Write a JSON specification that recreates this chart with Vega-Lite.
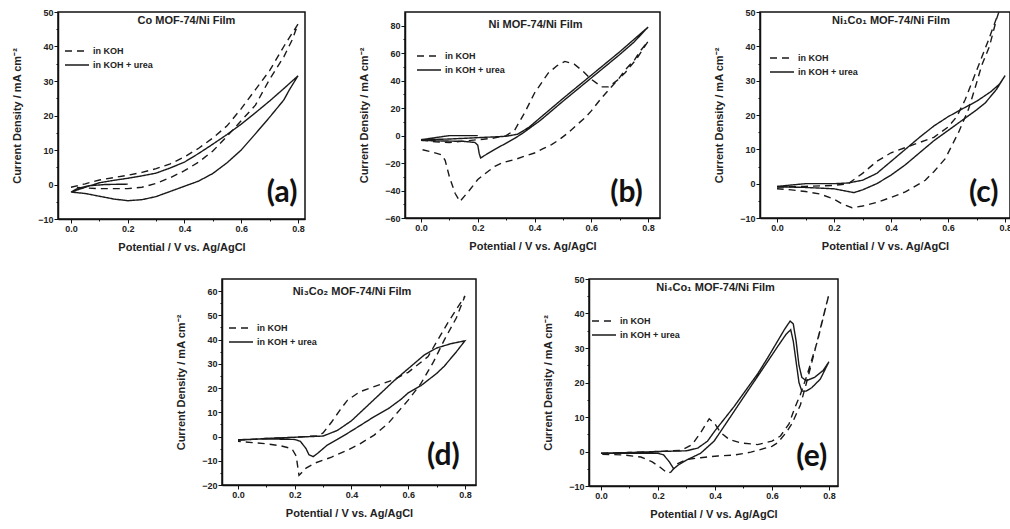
{
  "$schema": "https://vega.github.io/schema/vega-lite/v6.json",
  "background": "white",
  "padding": {"left": 10, "top": 7, "right": 0, "bottom": 0},
  "spacing": 21,
  "resolve": {"scale": {"strokeDash": "independent"}, "legend": {"strokeDash": "independent"}},
  "datasets": {
    "cv": [
      {"p":"a","s":"in KOH","i":0,"x":0.0,"y":-0.8},{"p":"a","s":"in KOH","i":1,"x":0.05,"y":0.2},{"p":"a","s":"in KOH","i":2,"x":0.1,"y":1.3},{"p":"a","s":"in KOH","i":3,"x":0.15,"y":2.0},{"p":"a","s":"in KOH","i":4,"x":0.2,"y":2.7},{"p":"a","s":"in KOH","i":5,"x":0.25,"y":3.5},{"p":"a","s":"in KOH","i":6,"x":0.3,"y":4.6},{"p":"a","s":"in KOH","i":7,"x":0.35,"y":6.0},{"p":"a","s":"in KOH","i":8,"x":0.4,"y":8.0},{"p":"a","s":"in KOH","i":9,"x":0.45,"y":10.5},{"p":"a","s":"in KOH","i":10,"x":0.5,"y":13.5},{"p":"a","s":"in KOH","i":11,"x":0.55,"y":17},{"p":"a","s":"in KOH","i":12,"x":0.6,"y":22},{"p":"a","s":"in KOH","i":13,"x":0.65,"y":27.5},{"p":"a","s":"in KOH","i":14,"x":0.7,"y":33},{"p":"a","s":"in KOH","i":15,"x":0.75,"y":40},{"p":"a","s":"in KOH","i":16,"x":0.8,"y":46.5},{"p":"a","s":"in KOH","i":17,"x":0.78,"y":42},{"p":"a","s":"in KOH","i":18,"x":0.75,"y":37},{"p":"a","s":"in KOH","i":19,"x":0.7,"y":30.5},{"p":"a","s":"in KOH","i":20,"x":0.65,"y":23},{"p":"a","s":"in KOH","i":21,"x":0.6,"y":18.5},{"p":"a","s":"in KOH","i":22,"x":0.55,"y":14},{"p":"a","s":"in KOH","i":23,"x":0.5,"y":9.7},{"p":"a","s":"in KOH","i":24,"x":0.45,"y":6.5},{"p":"a","s":"in KOH","i":25,"x":0.4,"y":4},{"p":"a","s":"in KOH","i":26,"x":0.35,"y":2},{"p":"a","s":"in KOH","i":27,"x":0.3,"y":0.3},{"p":"a","s":"in KOH","i":28,"x":0.25,"y":-0.8},{"p":"a","s":"in KOH","i":29,"x":0.2,"y":-1.2},{"p":"a","s":"in KOH","i":30,"x":0.1,"y":-1.2},{"p":"a","s":"in KOH","i":31,"x":0.05,"y":-1},{"p":"a","s":"in KOH","i":32,"x":0.0,"y":-0.8},
      {"p":"a","s":"in KOH + urea","i":0,"x":0.2,"y":0.1},{"p":"a","s":"in KOH + urea","i":1,"x":0.12,"y":0},{"p":"a","s":"in KOH + urea","i":2,"x":0.06,"y":-0.4},{"p":"a","s":"in KOH + urea","i":3,"x":0.02,"y":-1.3},{"p":"a","s":"in KOH + urea","i":4,"x":0.0,"y":-2.2},{"p":"a","s":"in KOH + urea","i":5,"x":0.05,"y":-0.8},{"p":"a","s":"in KOH + urea","i":6,"x":0.1,"y":0.5},{"p":"a","s":"in KOH + urea","i":7,"x":0.15,"y":1.2},{"p":"a","s":"in KOH + urea","i":8,"x":0.2,"y":1.8},{"p":"a","s":"in KOH + urea","i":9,"x":0.25,"y":2.5},{"p":"a","s":"in KOH + urea","i":10,"x":0.3,"y":3.3},{"p":"a","s":"in KOH + urea","i":11,"x":0.35,"y":4.8},{"p":"a","s":"in KOH + urea","i":12,"x":0.4,"y":6.5},{"p":"a","s":"in KOH + urea","i":13,"x":0.45,"y":9},{"p":"a","s":"in KOH + urea","i":14,"x":0.5,"y":11.7},{"p":"a","s":"in KOH + urea","i":15,"x":0.55,"y":14.5},{"p":"a","s":"in KOH + urea","i":16,"x":0.6,"y":17.5},{"p":"a","s":"in KOH + urea","i":17,"x":0.65,"y":20.8},{"p":"a","s":"in KOH + urea","i":18,"x":0.7,"y":24.2},{"p":"a","s":"in KOH + urea","i":19,"x":0.75,"y":27.8},{"p":"a","s":"in KOH + urea","i":20,"x":0.8,"y":31.5},{"p":"a","s":"in KOH + urea","i":21,"x":0.77,"y":27.5},{"p":"a","s":"in KOH + urea","i":22,"x":0.75,"y":24.5},{"p":"a","s":"in KOH + urea","i":23,"x":0.7,"y":19.5},{"p":"a","s":"in KOH + urea","i":24,"x":0.65,"y":14.7},{"p":"a","s":"in KOH + urea","i":25,"x":0.6,"y":10},{"p":"a","s":"in KOH + urea","i":26,"x":0.55,"y":6.3},{"p":"a","s":"in KOH + urea","i":27,"x":0.5,"y":3.2},{"p":"a","s":"in KOH + urea","i":28,"x":0.45,"y":1},{"p":"a","s":"in KOH + urea","i":29,"x":0.4,"y":-0.5},{"p":"a","s":"in KOH + urea","i":30,"x":0.35,"y":-2},{"p":"a","s":"in KOH + urea","i":31,"x":0.3,"y":-3.5},{"p":"a","s":"in KOH + urea","i":32,"x":0.25,"y":-4.4},{"p":"a","s":"in KOH + urea","i":33,"x":0.2,"y":-4.7},{"p":"a","s":"in KOH + urea","i":34,"x":0.15,"y":-4.2},{"p":"a","s":"in KOH + urea","i":35,"x":0.1,"y":-3.4},{"p":"a","s":"in KOH + urea","i":36,"x":0.05,"y":-2.6},{"p":"a","s":"in KOH + urea","i":37,"x":0.0,"y":-2.2},

      {"p":"b","s":"in KOH","i":0,"x":0.0,"y":-3},{"p":"b","s":"in KOH","i":1,"x":0.05,"y":-4.5},{"p":"b","s":"in KOH","i":2,"x":0.1,"y":-5},{"p":"b","s":"in KOH","i":3,"x":0.15,"y":-4},{"p":"b","s":"in KOH","i":4,"x":0.2,"y":-3},{"p":"b","s":"in KOH","i":5,"x":0.25,"y":-2},{"p":"b","s":"in KOH","i":6,"x":0.3,"y":0},{"p":"b","s":"in KOH","i":7,"x":0.33,"y":4},{"p":"b","s":"in KOH","i":8,"x":0.366,"y":17},{"p":"b","s":"in KOH","i":9,"x":0.4,"y":31},{"p":"b","s":"in KOH","i":10,"x":0.448,"y":45.5},{"p":"b","s":"in KOH","i":11,"x":0.48,"y":51},{"p":"b","s":"in KOH","i":12,"x":0.507,"y":54},{"p":"b","s":"in KOH","i":13,"x":0.54,"y":52},{"p":"b","s":"in KOH","i":14,"x":0.57,"y":47},{"p":"b","s":"in KOH","i":15,"x":0.6,"y":41},{"p":"b","s":"in KOH","i":16,"x":0.636,"y":35.5},{"p":"b","s":"in KOH","i":17,"x":0.66,"y":35.5},{"p":"b","s":"in KOH","i":18,"x":0.69,"y":40},{"p":"b","s":"in KOH","i":19,"x":0.72,"y":46},{"p":"b","s":"in KOH","i":20,"x":0.76,"y":56},{"p":"b","s":"in KOH","i":21,"x":0.8,"y":68.6},{"p":"b","s":"in KOH","i":22,"x":0.77,"y":61},{"p":"b","s":"in KOH","i":23,"x":0.753,"y":55.3},{"p":"b","s":"in KOH","i":24,"x":0.72,"y":48},{"p":"b","s":"in KOH","i":25,"x":0.694,"y":40.7},{"p":"b","s":"in KOH","i":26,"x":0.66,"y":33},{"p":"b","s":"in KOH","i":27,"x":0.636,"y":27.4},{"p":"b","s":"in KOH","i":28,"x":0.6,"y":18},{"p":"b","s":"in KOH","i":29,"x":0.577,"y":12.8},{"p":"b","s":"in KOH","i":30,"x":0.55,"y":8},{"p":"b","s":"in KOH","i":31,"x":0.518,"y":2},{"p":"b","s":"in KOH","i":32,"x":0.49,"y":-2.5},{"p":"b","s":"in KOH","i":33,"x":0.46,"y":-6.6},{"p":"b","s":"in KOH","i":34,"x":0.43,"y":-9.5},{"p":"b","s":"in KOH","i":35,"x":0.4,"y":-12.7},{"p":"b","s":"in KOH","i":36,"x":0.365,"y":-15},{"p":"b","s":"in KOH","i":37,"x":0.33,"y":-17.5},{"p":"b","s":"in KOH","i":38,"x":0.29,"y":-19.5},{"p":"b","s":"in KOH","i":39,"x":0.26,"y":-22.4},{"p":"b","s":"in KOH","i":40,"x":0.23,"y":-27},{"p":"b","s":"in KOH","i":41,"x":0.2,"y":-32},{"p":"b","s":"in KOH","i":42,"x":0.17,"y":-40},{"p":"b","s":"in KOH","i":43,"x":0.137,"y":-48},{"p":"b","s":"in KOH","i":44,"x":0.12,"y":-42},{"p":"b","s":"in KOH","i":45,"x":0.1,"y":-30},{"p":"b","s":"in KOH","i":46,"x":0.085,"y":-18},{"p":"b","s":"in KOH","i":47,"x":0.073,"y":-14},{"p":"b","s":"in KOH","i":48,"x":0.04,"y":-12},{"p":"b","s":"in KOH","i":49,"x":0.0,"y":-10},
      {"p":"b","s":"in KOH + urea","i":0,"x":0.2,"y":0},{"p":"b","s":"in KOH + urea","i":1,"x":0.1,"y":0},{"p":"b","s":"in KOH + urea","i":2,"x":0.05,"y":-1.5},{"p":"b","s":"in KOH + urea","i":3,"x":0.0,"y":-3},{"p":"b","s":"in KOH + urea","i":4,"x":0.1,"y":-2.5},{"p":"b","s":"in KOH + urea","i":5,"x":0.2,"y":-1.5},{"p":"b","s":"in KOH + urea","i":6,"x":0.3,"y":-0.5},{"p":"b","s":"in KOH + urea","i":7,"x":0.34,"y":1},{"p":"b","s":"in KOH + urea","i":8,"x":0.38,"y":6},{"p":"b","s":"in KOH + urea","i":9,"x":0.42,"y":13},{"p":"b","s":"in KOH + urea","i":10,"x":0.5,"y":27},{"p":"b","s":"in KOH + urea","i":11,"x":0.6,"y":44},{"p":"b","s":"in KOH + urea","i":12,"x":0.7,"y":61},{"p":"b","s":"in KOH + urea","i":13,"x":0.8,"y":79},{"p":"b","s":"in KOH + urea","i":14,"x":0.75,"y":68},{"p":"b","s":"in KOH + urea","i":15,"x":0.7,"y":59},{"p":"b","s":"in KOH + urea","i":16,"x":0.6,"y":42},{"p":"b","s":"in KOH + urea","i":17,"x":0.5,"y":25},{"p":"b","s":"in KOH + urea","i":18,"x":0.42,"y":11},{"p":"b","s":"in KOH + urea","i":19,"x":0.36,"y":2},{"p":"b","s":"in KOH + urea","i":20,"x":0.33,"y":-2},{"p":"b","s":"in KOH + urea","i":21,"x":0.3,"y":-5.5},{"p":"b","s":"in KOH + urea","i":22,"x":0.26,"y":-10},{"p":"b","s":"in KOH + urea","i":23,"x":0.22,"y":-15},{"p":"b","s":"in KOH + urea","i":24,"x":0.21,"y":-16.3},{"p":"b","s":"in KOH + urea","i":25,"x":0.205,"y":-13},{"p":"b","s":"in KOH + urea","i":26,"x":0.2,"y":-7},{"p":"b","s":"in KOH + urea","i":27,"x":0.19,"y":-5},{"p":"b","s":"in KOH + urea","i":28,"x":0.15,"y":-4.2},{"p":"b","s":"in KOH + urea","i":29,"x":0.1,"y":-4},{"p":"b","s":"in KOH + urea","i":30,"x":0.05,"y":-3.8},{"p":"b","s":"in KOH + urea","i":31,"x":0.0,"y":-3.5},

      {"p":"c","s":"in KOH","i":0,"x":0.0,"y":-1},{"p":"c","s":"in KOH","i":1,"x":0.1,"y":-0.8},{"p":"c","s":"in KOH","i":2,"x":0.2,"y":-0.5},{"p":"c","s":"in KOH","i":3,"x":0.25,"y":0},{"p":"c","s":"in KOH","i":4,"x":0.3,"y":3},{"p":"c","s":"in KOH","i":5,"x":0.35,"y":6.5},{"p":"c","s":"in KOH","i":6,"x":0.4,"y":9},{"p":"c","s":"in KOH","i":7,"x":0.45,"y":10.5},{"p":"c","s":"in KOH","i":8,"x":0.5,"y":12},{"p":"c","s":"in KOH","i":9,"x":0.55,"y":13.5},{"p":"c","s":"in KOH","i":10,"x":0.6,"y":16.5},{"p":"c","s":"in KOH","i":11,"x":0.63,"y":19.5},{"p":"c","s":"in KOH","i":12,"x":0.66,"y":24.5},{"p":"c","s":"in KOH","i":13,"x":0.7,"y":33},{"p":"c","s":"in KOH","i":14,"x":0.74,"y":41.5},{"p":"c","s":"in KOH","i":15,"x":0.78,"y":50.5},{"p":"c","s":"in KOH","i":16,"x":0.79,"y":53},{"p":"c","s":"in KOH","i":17,"x":0.77,"y":48},{"p":"c","s":"in KOH","i":18,"x":0.745,"y":40},{"p":"c","s":"in KOH","i":19,"x":0.718,"y":34.5},{"p":"c","s":"in KOH","i":20,"x":0.695,"y":28},{"p":"c","s":"in KOH","i":21,"x":0.672,"y":21.8},{"p":"c","s":"in KOH","i":22,"x":0.637,"y":15},{"p":"c","s":"in KOH","i":23,"x":0.59,"y":7.3},{"p":"c","s":"in KOH","i":24,"x":0.55,"y":3.5},{"p":"c","s":"in KOH","i":25,"x":0.52,"y":1},{"p":"c","s":"in KOH","i":26,"x":0.45,"y":-2.4},{"p":"c","s":"in KOH","i":27,"x":0.4,"y":-4},{"p":"c","s":"in KOH","i":28,"x":0.356,"y":-5.3},{"p":"c","s":"in KOH","i":29,"x":0.3,"y":-6.5},{"p":"c","s":"in KOH","i":30,"x":0.263,"y":-7},{"p":"c","s":"in KOH","i":31,"x":0.23,"y":-6},{"p":"c","s":"in KOH","i":32,"x":0.2,"y":-4.5},{"p":"c","s":"in KOH","i":33,"x":0.15,"y":-3},{"p":"c","s":"in KOH","i":34,"x":0.1,"y":-2.3},{"p":"c","s":"in KOH","i":35,"x":0.05,"y":-1.8},{"p":"c","s":"in KOH","i":36,"x":0.0,"y":-1.5},
      {"p":"c","s":"in KOH + urea","i":0,"x":0.0,"y":-0.8},{"p":"c","s":"in KOH + urea","i":1,"x":0.1,"y":0},{"p":"c","s":"in KOH + urea","i":2,"x":0.2,"y":0},{"p":"c","s":"in KOH + urea","i":3,"x":0.25,"y":0.2},{"p":"c","s":"in KOH + urea","i":4,"x":0.3,"y":1},{"p":"c","s":"in KOH + urea","i":5,"x":0.35,"y":3},{"p":"c","s":"in KOH + urea","i":6,"x":0.4,"y":6.5},{"p":"c","s":"in KOH + urea","i":7,"x":0.45,"y":10},{"p":"c","s":"in KOH + urea","i":8,"x":0.5,"y":13.5},{"p":"c","s":"in KOH + urea","i":9,"x":0.55,"y":16.8},{"p":"c","s":"in KOH + urea","i":10,"x":0.6,"y":19.5},{"p":"c","s":"in KOH + urea","i":11,"x":0.65,"y":21.8},{"p":"c","s":"in KOH + urea","i":12,"x":0.7,"y":24},{"p":"c","s":"in KOH + urea","i":13,"x":0.75,"y":26.8},{"p":"c","s":"in KOH + urea","i":14,"x":0.78,"y":29},{"p":"c","s":"in KOH + urea","i":15,"x":0.8,"y":31.5},{"p":"c","s":"in KOH + urea","i":16,"x":0.77,"y":27.5},{"p":"c","s":"in KOH + urea","i":17,"x":0.73,"y":23.5},{"p":"c","s":"in KOH + urea","i":18,"x":0.7,"y":21.5},{"p":"c","s":"in KOH + urea","i":19,"x":0.65,"y":18.5},{"p":"c","s":"in KOH + urea","i":20,"x":0.6,"y":15.5},{"p":"c","s":"in KOH + urea","i":21,"x":0.55,"y":12.5},{"p":"c","s":"in KOH + urea","i":22,"x":0.5,"y":9},{"p":"c","s":"in KOH + urea","i":23,"x":0.45,"y":5.5},{"p":"c","s":"in KOH + urea","i":24,"x":0.4,"y":2.5},{"p":"c","s":"in KOH + urea","i":25,"x":0.35,"y":0},{"p":"c","s":"in KOH + urea","i":26,"x":0.3,"y":-1.8},{"p":"c","s":"in KOH + urea","i":27,"x":0.27,"y":-2.6},{"p":"c","s":"in KOH + urea","i":28,"x":0.25,"y":-2.3},{"p":"c","s":"in KOH + urea","i":29,"x":0.2,"y":-1.5},{"p":"c","s":"in KOH + urea","i":30,"x":0.1,"y":-1.1},{"p":"c","s":"in KOH + urea","i":31,"x":0.0,"y":-0.9},

      {"p":"d","s":"in KOH","i":0,"x":0.0,"y":-1.5},{"p":"d","s":"in KOH","i":1,"x":0.1,"y":-0.8},{"p":"d","s":"in KOH","i":2,"x":0.2,"y":-0.3},{"p":"d","s":"in KOH","i":3,"x":0.28,"y":0.3},{"p":"d","s":"in KOH","i":4,"x":0.3,"y":1.5},{"p":"d","s":"in KOH","i":5,"x":0.33,"y":6},{"p":"d","s":"in KOH","i":6,"x":0.36,"y":11},{"p":"d","s":"in KOH","i":7,"x":0.386,"y":15},{"p":"d","s":"in KOH","i":8,"x":0.43,"y":18.5},{"p":"d","s":"in KOH","i":9,"x":0.49,"y":21},{"p":"d","s":"in KOH","i":10,"x":0.55,"y":23.5},{"p":"d","s":"in KOH","i":11,"x":0.6,"y":26.5},{"p":"d","s":"in KOH","i":12,"x":0.67,"y":33},{"p":"d","s":"in KOH","i":13,"x":0.74,"y":47},{"p":"d","s":"in KOH","i":14,"x":0.8,"y":58},{"p":"d","s":"in KOH","i":15,"x":0.77,"y":49},{"p":"d","s":"in KOH","i":16,"x":0.727,"y":39.8},{"p":"d","s":"in KOH","i":17,"x":0.69,"y":31},{"p":"d","s":"in KOH","i":18,"x":0.645,"y":21.9},{"p":"d","s":"in KOH","i":19,"x":0.6,"y":15},{"p":"d","s":"in KOH","i":20,"x":0.574,"y":11.5},{"p":"d","s":"in KOH","i":21,"x":0.53,"y":5.5},{"p":"d","s":"in KOH","i":22,"x":0.48,"y":0.6},{"p":"d","s":"in KOH","i":23,"x":0.43,"y":-3},{"p":"d","s":"in KOH","i":24,"x":0.386,"y":-5.6},{"p":"d","s":"in KOH","i":25,"x":0.33,"y":-8.5},{"p":"d","s":"in KOH","i":26,"x":0.27,"y":-11},{"p":"d","s":"in KOH","i":27,"x":0.24,"y":-13},{"p":"d","s":"in KOH","i":28,"x":0.22,"y":-15.5},{"p":"d","s":"in KOH","i":29,"x":0.215,"y":-16},{"p":"d","s":"in KOH","i":30,"x":0.21,"y":-12},{"p":"d","s":"in KOH","i":31,"x":0.205,"y":-8},{"p":"d","s":"in KOH","i":32,"x":0.19,"y":-5},{"p":"d","s":"in KOH","i":33,"x":0.15,"y":-3.8},{"p":"d","s":"in KOH","i":34,"x":0.1,"y":-3},{"p":"d","s":"in KOH","i":35,"x":0.05,"y":-2.5},{"p":"d","s":"in KOH","i":36,"x":0.0,"y":-2},
      {"p":"d","s":"in KOH + urea","i":0,"x":0.0,"y":-1.5},{"p":"d","s":"in KOH + urea","i":1,"x":0.1,"y":-0.8},{"p":"d","s":"in KOH + urea","i":2,"x":0.2,"y":-0.3},{"p":"d","s":"in KOH + urea","i":3,"x":0.3,"y":0.2},{"p":"d","s":"in KOH + urea","i":4,"x":0.35,"y":2.5},{"p":"d","s":"in KOH + urea","i":5,"x":0.4,"y":6.5},{"p":"d","s":"in KOH + urea","i":6,"x":0.45,"y":12},{"p":"d","s":"in KOH + urea","i":7,"x":0.5,"y":17.5},{"p":"d","s":"in KOH + urea","i":8,"x":0.55,"y":23},{"p":"d","s":"in KOH + urea","i":9,"x":0.6,"y":28},{"p":"d","s":"in KOH + urea","i":10,"x":0.656,"y":33.6},{"p":"d","s":"in KOH + urea","i":11,"x":0.7,"y":36.5},{"p":"d","s":"in KOH + urea","i":12,"x":0.75,"y":38.3},{"p":"d","s":"in KOH + urea","i":13,"x":0.8,"y":39.5},{"p":"d","s":"in KOH + urea","i":14,"x":0.77,"y":35},{"p":"d","s":"in KOH + urea","i":15,"x":0.727,"y":29},{"p":"d","s":"in KOH + urea","i":16,"x":0.7,"y":26},{"p":"d","s":"in KOH + urea","i":17,"x":0.645,"y":21},{"p":"d","s":"in KOH + urea","i":18,"x":0.6,"y":18},{"p":"d","s":"in KOH + urea","i":19,"x":0.574,"y":15.3},{"p":"d","s":"in KOH + urea","i":20,"x":0.53,"y":11.5},{"p":"d","s":"in KOH + urea","i":21,"x":0.48,"y":8.2},{"p":"d","s":"in KOH + urea","i":22,"x":0.43,"y":4.5},{"p":"d","s":"in KOH + urea","i":23,"x":0.386,"y":1.3},{"p":"d","s":"in KOH + urea","i":24,"x":0.35,"y":-1.2},{"p":"d","s":"in KOH + urea","i":25,"x":0.315,"y":-3.5},{"p":"d","s":"in KOH + urea","i":26,"x":0.28,"y":-7},{"p":"d","s":"in KOH + urea","i":27,"x":0.265,"y":-8.3},{"p":"d","s":"in KOH + urea","i":28,"x":0.25,"y":-7.5},{"p":"d","s":"in KOH + urea","i":29,"x":0.24,"y":-5},{"p":"d","s":"in KOH + urea","i":30,"x":0.22,"y":-2},{"p":"d","s":"in KOH + urea","i":31,"x":0.2,"y":-1.2},{"p":"d","s":"in KOH + urea","i":32,"x":0.1,"y":-1},{"p":"d","s":"in KOH + urea","i":33,"x":0.0,"y":-1.3},

      {"p":"e","s":"in KOH","i":0,"x":0.0,"y":-0.5},{"p":"e","s":"in KOH","i":1,"x":0.1,"y":-0.3},{"p":"e","s":"in KOH","i":2,"x":0.2,"y":0},{"p":"e","s":"in KOH","i":3,"x":0.28,"y":0.3},{"p":"e","s":"in KOH","i":4,"x":0.32,"y":2},{"p":"e","s":"in KOH","i":5,"x":0.35,"y":5.5},{"p":"e","s":"in KOH","i":6,"x":0.38,"y":9.5},{"p":"e","s":"in KOH","i":7,"x":0.4,"y":8},{"p":"e","s":"in KOH","i":8,"x":0.42,"y":5.5},{"p":"e","s":"in KOH","i":9,"x":0.45,"y":3.5},{"p":"e","s":"in KOH","i":10,"x":0.49,"y":2.5},{"p":"e","s":"in KOH","i":11,"x":0.55,"y":2},{"p":"e","s":"in KOH","i":12,"x":0.6,"y":3},{"p":"e","s":"in KOH","i":13,"x":0.63,"y":4.5},{"p":"e","s":"in KOH","i":14,"x":0.66,"y":8},{"p":"e","s":"in KOH","i":15,"x":0.68,"y":12.6},{"p":"e","s":"in KOH","i":16,"x":0.7,"y":16.5},{"p":"e","s":"in KOH","i":17,"x":0.724,"y":22.3},{"p":"e","s":"in KOH","i":18,"x":0.76,"y":32},{"p":"e","s":"in KOH","i":19,"x":0.8,"y":45.5},{"p":"e","s":"in KOH","i":20,"x":0.78,"y":39},{"p":"e","s":"in KOH","i":21,"x":0.75,"y":29},{"p":"e","s":"in KOH","i":22,"x":0.72,"y":19.5},{"p":"e","s":"in KOH","i":23,"x":0.7,"y":13.5},{"p":"e","s":"in KOH","i":24,"x":0.67,"y":8},{"p":"e","s":"in KOH","i":25,"x":0.65,"y":5.5},{"p":"e","s":"in KOH","i":26,"x":0.62,"y":2.5},{"p":"e","s":"in KOH","i":27,"x":0.6,"y":1.5},{"p":"e","s":"in KOH","i":28,"x":0.526,"y":-0.2},{"p":"e","s":"in KOH","i":29,"x":0.47,"y":-1},{"p":"e","s":"in KOH","i":30,"x":0.41,"y":-1.3},{"p":"e","s":"in KOH","i":31,"x":0.35,"y":-1.8},{"p":"e","s":"in KOH","i":32,"x":0.3,"y":-2.3},{"p":"e","s":"in KOH","i":33,"x":0.27,"y":-3.5},{"p":"e","s":"in KOH","i":34,"x":0.245,"y":-6},{"p":"e","s":"in KOH","i":35,"x":0.234,"y":-6.3},{"p":"e","s":"in KOH","i":36,"x":0.21,"y":-4.7},{"p":"e","s":"in KOH","i":37,"x":0.18,"y":-3},{"p":"e","s":"in KOH","i":38,"x":0.14,"y":-1.6},{"p":"e","s":"in KOH","i":39,"x":0.08,"y":-1},{"p":"e","s":"in KOH","i":40,"x":0.0,"y":-0.8},
      {"p":"e","s":"in KOH + urea","i":0,"x":0.0,"y":-0.5},{"p":"e","s":"in KOH + urea","i":1,"x":0.1,"y":-0.3},{"p":"e","s":"in KOH + urea","i":2,"x":0.2,"y":0},{"p":"e","s":"in KOH + urea","i":3,"x":0.3,"y":0.2},{"p":"e","s":"in KOH + urea","i":4,"x":0.34,"y":1},{"p":"e","s":"in KOH + urea","i":5,"x":0.374,"y":3},{"p":"e","s":"in KOH + urea","i":6,"x":0.4,"y":6},{"p":"e","s":"in KOH + urea","i":7,"x":0.467,"y":13},{"p":"e","s":"in KOH + urea","i":8,"x":0.5,"y":16.8},{"p":"e","s":"in KOH + urea","i":9,"x":0.55,"y":22.5},{"p":"e","s":"in KOH + urea","i":10,"x":0.584,"y":27},{"p":"e","s":"in KOH + urea","i":11,"x":0.62,"y":32},{"p":"e","s":"in KOH + urea","i":12,"x":0.645,"y":35.5},{"p":"e","s":"in KOH + urea","i":13,"x":0.664,"y":37.8},{"p":"e","s":"in KOH + urea","i":14,"x":0.675,"y":37},{"p":"e","s":"in KOH + urea","i":15,"x":0.685,"y":32},{"p":"e","s":"in KOH + urea","i":16,"x":0.695,"y":25},{"p":"e","s":"in KOH + urea","i":17,"x":0.705,"y":21.5},{"p":"e","s":"in KOH + urea","i":18,"x":0.72,"y":20.5},{"p":"e","s":"in KOH + urea","i":19,"x":0.75,"y":21.5},{"p":"e","s":"in KOH + urea","i":20,"x":0.78,"y":23.5},{"p":"e","s":"in KOH + urea","i":21,"x":0.8,"y":26},{"p":"e","s":"in KOH + urea","i":22,"x":0.77,"y":21},{"p":"e","s":"in KOH + urea","i":23,"x":0.74,"y":18.5},{"p":"e","s":"in KOH + urea","i":24,"x":0.72,"y":17.5},{"p":"e","s":"in KOH + urea","i":25,"x":0.705,"y":17.5},{"p":"e","s":"in KOH + urea","i":26,"x":0.695,"y":20},{"p":"e","s":"in KOH + urea","i":27,"x":0.685,"y":26},{"p":"e","s":"in KOH + urea","i":28,"x":0.675,"y":32},{"p":"e","s":"in KOH + urea","i":29,"x":0.666,"y":35.3},{"p":"e","s":"in KOH + urea","i":30,"x":0.65,"y":34},{"p":"e","s":"in KOH + urea","i":31,"x":0.62,"y":30.4},{"p":"e","s":"in KOH + urea","i":32,"x":0.56,"y":23},{"p":"e","s":"in KOH + urea","i":33,"x":0.514,"y":17.4},{"p":"e","s":"in KOH + urea","i":34,"x":0.45,"y":9.5},{"p":"e","s":"in KOH + urea","i":35,"x":0.397,"y":3},{"p":"e","s":"in KOH + urea","i":36,"x":0.35,"y":-0.5},{"p":"e","s":"in KOH + urea","i":37,"x":0.3,"y":-2.5},{"p":"e","s":"in KOH + urea","i":38,"x":0.27,"y":-4},{"p":"e","s":"in KOH + urea","i":39,"x":0.255,"y":-5},{"p":"e","s":"in KOH + urea","i":40,"x":0.24,"y":-3},{"p":"e","s":"in KOH + urea","i":41,"x":0.22,"y":-1},{"p":"e","s":"in KOH + urea","i":42,"x":0.2,"y":-0.5},{"p":"e","s":"in KOH + urea","i":43,"x":0.1,"y":-0.5},{"p":"e","s":"in KOH + urea","i":44,"x":0.0,"y":-0.5}
    ]
  },
  "vconcat": [
    {
      "hconcat": [
        {
          "width": 247, "height": 207,
          "title": {"text": "Co MOF-74/Ni Film", "offset": -18, "dx": 5},
          "layer": [
            {
              "data": {"name": "cv"},
              "transform": [{"filter": "datum.p === 'a'"}],
              "mark": {"type": "line", "strokeWidth": 1.4, "color": "#1a1a1a", "clip": true},
              "encoding": {
                "x": {"field": "x", "type": "quantitative", "scale": {"domain": [-0.0458, 0.8247], "nice": false, "zero": false}, "axis": {"values": [0, 0.1, 0.2, 0.3, 0.4, 0.5, 0.6, 0.7, 0.8], "tickCount": 100, "labelOverlap": false, "labelExpr": "round(datum.value*10) % 2 === 0 ? format(datum.value, '.1f') : ''", "tickSize": {"condition": {"test": "round(datum.value*10) % 2 === 0", "value": 4}, "value": 2}, "title": "Potential / V vs. Ag/AgCl"}},
                "y": {"field": "y", "type": "quantitative", "scale": {"domain": [-10, 50], "nice": false, "zero": false}, "axis": {"values": [-10, -5, 0, 5, 10, 15, 20, 25, 30, 35, 40, 45, 50], "tickCount": 100, "labelOverlap": false, "labelExpr": "datum.value % 10 === 0 ? format(datum.value, 'd') : ''", "tickSize": {"condition": {"test": "datum.value % 10 === 0", "value": 4}, "value": 2}, "title": "Current Density / mA cm⁻²"}},
                "strokeDash": {"field": "s", "type": "nominal", "scale": {"domain": ["in KOH", "in KOH + urea"], "range": [[7, 5], [1, 0]]}, "legend": {"orient": "none", "legendX": 6, "legendY": 32.5}},
                "order": {"field": "i", "type": "quantitative"}
              }
            },
            {
              "data": {"values": [{}]},
              "mark": {"type": "text", "fontSize": 30, "fontWeight": "bold", "font": "Lato", "color": "#111"},
              "encoding": {"x": {"datum": 0.744, "type": "quantitative"}, "y": {"datum": -2.6, "type": "quantitative"}, "text": {"value": "(a)"}}
            }
          ]
        },
        {
          "width": 255, "height": 206,
          "title": {"text": "Ni MOF-74/Ni Film", "offset": -18, "dx": 3},
          "layer": [
            {
              "data": {"name": "cv"},
              "transform": [{"filter": "datum.p === 'b'"}],
              "mark": {"type": "line", "strokeWidth": 1.4, "color": "#1a1a1a", "clip": true},
              "encoding": {
                "x": {"field": "x", "type": "quantitative", "scale": {"domain": [-0.0564, 0.842], "nice": false, "zero": false}, "axis": {"values": [0, 0.1, 0.2, 0.3, 0.4, 0.5, 0.6, 0.7, 0.8], "tickCount": 100, "labelOverlap": false, "labelExpr": "round(datum.value*10) % 2 === 0 ? format(datum.value, '.1f') : ''", "tickSize": {"condition": {"test": "round(datum.value*10) % 2 === 0", "value": 4}, "value": 2}, "title": "Potential / V vs. Ag/AgCl"}},
                "y": {"field": "y", "type": "quantitative", "scale": {"domain": [-60, 90], "nice": false, "zero": false}, "axis": {"values": [-60, -50, -40, -30, -20, -10, 0, 10, 20, 30, 40, 50, 60, 70, 80], "tickCount": 100, "labelOverlap": false, "labelExpr": "datum.value % 20 === 0 ? format(datum.value, 'd') : ''", "tickSize": {"condition": {"test": "datum.value % 20 === 0", "value": 4}, "value": 2}, "title": "Current Density / mA cm⁻²"}},
                "strokeDash": {"field": "s", "type": "nominal", "scale": {"domain": ["in KOH", "in KOH + urea"], "range": [[7, 5], [1, 0]]}, "legend": {"orient": "none", "legendX": 11, "legendY": 37.5}},
                "order": {"field": "i", "type": "quantitative"}
              }
            },
            {
              "data": {"values": [{}]},
              "mark": {"type": "text", "fontSize": 30, "fontWeight": "bold", "font": "Lato", "color": "#111"},
              "encoding": {"x": {"datum": 0.724, "type": "quantitative"}, "y": {"datum": -41.8, "type": "quantitative"}, "text": {"value": "(b)"}}
            }
          ]
        },
        {
          "width": 250, "height": 206,
          "title": {"text": "Ni₁Co₁ MOF-74/Ni Film", "offset": -18, "dx": 6},
          "layer": [
            {
              "data": {"name": "cv"},
              "transform": [{"filter": "datum.p === 'c'"}],
              "mark": {"type": "line", "strokeWidth": 1.4, "color": "#1a1a1a", "clip": true},
              "encoding": {
                "x": {"field": "x", "type": "quantitative", "scale": {"domain": [-0.0596, 0.817], "nice": false, "zero": false}, "axis": {"values": [0, 0.1, 0.2, 0.3, 0.4, 0.5, 0.6, 0.7, 0.8], "tickCount": 100, "labelOverlap": false, "labelExpr": "round(datum.value*10) % 2 === 0 ? format(datum.value, '.1f') : ''", "tickSize": {"condition": {"test": "round(datum.value*10) % 2 === 0", "value": 4}, "value": 2}, "title": "Potential / V vs. Ag/AgCl"}},
                "y": {"field": "y", "type": "quantitative", "scale": {"domain": [-10, 50], "nice": false, "zero": false}, "axis": {"values": [-10, -5, 0, 5, 10, 15, 20, 25, 30, 35, 40, 45, 50], "tickCount": 100, "labelOverlap": false, "labelExpr": "datum.value % 10 === 0 ? format(datum.value, 'd') : ''", "tickSize": {"condition": {"test": "datum.value % 10 === 0", "value": 4}, "value": 2}, "title": "Current Density / mA cm⁻²"}},
                "strokeDash": {"field": "s", "type": "nominal", "scale": {"domain": ["in KOH", "in KOH + urea"], "range": [[7, 5], [1, 0]]}, "legend": {"orient": "none", "legendX": 9, "legendY": 39.5}},
                "order": {"field": "i", "type": "quantitative"}
              }
            },
            {
              "data": {"values": [{}]},
              "mark": {"type": "text", "fontSize": 30, "fontWeight": "bold", "font": "Lato", "color": "#111"},
              "encoding": {"x": {"datum": 0.725, "type": "quantitative"}, "y": {"datum": -2.6, "type": "quantitative"}, "text": {"value": "(c)"}}
            }
          ]
        }
      ],
      "spacing": 100,
      "bounds": "flush",
      "resolve": {"scale": {"strokeDash": "independent"}, "legend": {"strokeDash": "independent"}}
    },
    {
      "hconcat": [
        {
          "width": 51, "height": 10,
          "view": {"stroke": null},
          "data": {"values": [{}]},
          "mark": {"type": "point", "opacity": 0},
          "encoding": {}
        },
        {
          "width": 254, "height": 206,
          "title": {"text": "Ni₃Co₂ MOF-74/Ni Film", "offset": -18, "dx": 3},
          "layer": [
            {
              "data": {"name": "cv"},
              "transform": [{"filter": "datum.p === 'd'"}],
              "mark": {"type": "line", "strokeWidth": 1.4, "color": "#1a1a1a", "clip": true},
              "encoding": {
                "x": {"field": "x", "type": "quantitative", "scale": {"domain": [-0.0564, 0.839], "nice": false, "zero": false}, "axis": {"values": [0, 0.1, 0.2, 0.3, 0.4, 0.5, 0.6, 0.7, 0.8], "tickCount": 100, "labelOverlap": false, "labelExpr": "round(datum.value*10) % 2 === 0 ? format(datum.value, '.1f') : ''", "tickSize": {"condition": {"test": "round(datum.value*10) % 2 === 0", "value": 4}, "value": 2}, "title": "Potential / V vs. Ag/AgCl"}},
                "y": {"field": "y", "type": "quantitative", "scale": {"domain": [-20, 65], "nice": false, "zero": false}, "axis": {"values": [-20, -15, -10, -5, 0, 5, 10, 15, 20, 25, 30, 35, 40, 45, 50, 55, 60], "tickCount": 100, "labelOverlap": false, "labelExpr": "datum.value % 10 === 0 ? format(datum.value, 'd') : ''", "tickSize": {"condition": {"test": "datum.value % 10 === 0", "value": 4}, "value": 2}, "title": "Current Density / mA cm⁻²"}},
                "strokeDash": {"field": "s", "type": "nominal", "scale": {"domain": ["in KOH", "in KOH + urea"], "range": [[7, 5], [1, 0]]}, "legend": {"orient": "none", "legendX": 6, "legendY": 42.5}},
                "order": {"field": "i", "type": "quantitative"}
              }
            },
            {
              "data": {"values": [{}]},
              "mark": {"type": "text", "fontSize": 30, "fontWeight": "bold", "font": "Lato", "color": "#111"},
              "encoding": {"x": {"datum": 0.724, "type": "quantitative"}, "y": {"datum": -8, "type": "quantitative"}, "text": {"value": "(d)"}}
            }
          ]
        },
        {
          "width": 249, "height": 207,
          "title": {"text": "Ni₄Co₁ MOF-74/Ni Film", "offset": -18, "dx": 2},
          "layer": [
            {
              "data": {"name": "cv"},
              "transform": [{"filter": "datum.p === 'e'"}],
              "mark": {"type": "line", "strokeWidth": 1.4, "color": "#1a1a1a", "clip": true},
              "encoding": {
                "x": {"field": "x", "type": "quantitative", "scale": {"domain": [-0.042, 0.832], "nice": false, "zero": false}, "axis": {"values": [0, 0.1, 0.2, 0.3, 0.4, 0.5, 0.6, 0.7, 0.8], "tickCount": 100, "labelOverlap": false, "labelExpr": "round(datum.value*10) % 2 === 0 ? format(datum.value, '.1f') : ''", "tickSize": {"condition": {"test": "round(datum.value*10) % 2 === 0", "value": 4}, "value": 2}, "title": "Potential / V vs. Ag/AgCl"}},
                "y": {"field": "y", "type": "quantitative", "scale": {"domain": [-10, 50], "nice": false, "zero": false}, "axis": {"values": [-10, -5, 0, 5, 10, 15, 20, 25, 30, 35, 40, 45, 50], "tickCount": 100, "labelOverlap": false, "labelExpr": "datum.value % 10 === 0 ? format(datum.value, 'd') : ''", "tickSize": {"condition": {"test": "datum.value % 10 === 0", "value": 4}, "value": 2}, "title": "Current Density / mA cm⁻²"}},
                "strokeDash": {"field": "s", "type": "nominal", "scale": {"domain": ["in KOH", "in KOH + urea"], "range": [[7, 5], [1, 0]]}, "legend": {"orient": "none", "legendX": 2, "legendY": 35.5}},
                "order": {"field": "i", "type": "quantitative"}
              }
            },
            {
              "data": {"values": [{}]},
              "mark": {"type": "text", "fontSize": 30, "fontWeight": "bold", "font": "Lato", "color": "#111"},
              "encoding": {"x": {"datum": 0.74, "type": "quantitative"}, "y": {"datum": -1.6, "type": "quantitative"}, "text": {"value": "(e)"}}
            }
          ]
        }
      ],
      "spacing": 113,
      "bounds": "flush",
      "resolve": {"scale": {"strokeDash": "independent"}, "legend": {"strokeDash": "independent"}}
    }
  ],
  "config": {
    "view": {"stroke": "#111", "strokeWidth": 1.5},
    "axis": {
      "grid": false, "labelOverlap": false,
      "domainColor": "#111", "domainWidth": 1.5,
      "tickColor": "#111", "tickWidth": 1, "tickSize": 4,
      "labelFont": "Liberation Sans", "labelFontSize": 9, "labelFontWeight": "bold", "labelColor": "#222", "labelPadding": 1,
      "titleFont": "Liberation Sans", "titleFontSize": 11, "titleFontWeight": "bold", "titleColor": "#222", "titlePadding": 8
    },
    "axisY": {"titlePadding": 15, "labelOverlap": false},
    "legend": {
      "title": null, "padding": 0, "symbolType": "stroke", "symbolSize": 576, "symbolStrokeWidth": 1.4, "symbolStrokeColor": "#1a1a1a",
      "labelFont": "Liberation Sans", "labelFontSize": 9, "labelFontWeight": "bold", "labelColor": "#222", "labelOffset": 3,
      "clipHeight": 13, "rowPadding": 1
    },
    "title": {"font": "Liberation Sans", "fontSize": 11, "fontWeight": "bold", "color": "#222"}
  }
}
